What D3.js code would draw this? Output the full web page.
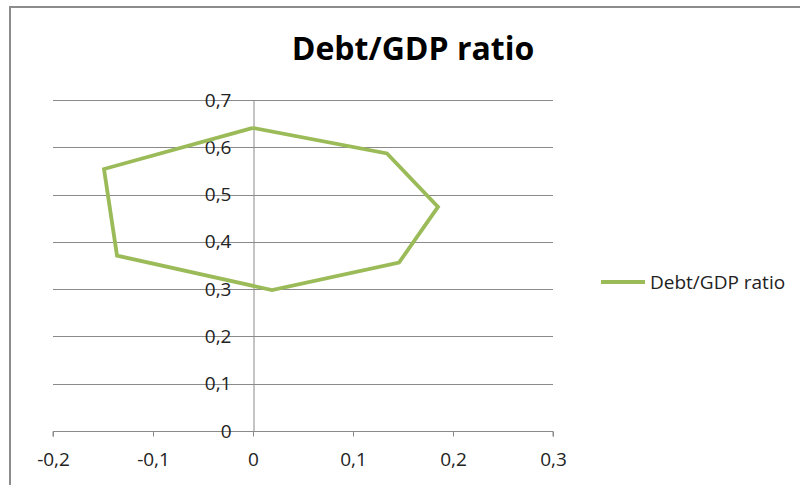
<!DOCTYPE html>
<html>
<head>
<meta charset="utf-8">
<script src="https://cdn.jsdelivr.net/npm/d3@7"></script>
<style>
  html, body { margin: 0; padding: 0; background: #fff; }
  svg { display: block; }
  text { font-family: "Open Sans", "Liberation Sans", sans-serif; fill: #222; }
</style>
</head>
<body>
<svg id="chart" width="800" height="485"></svg>
<script>
// Debt/GDP ratio path, closed polygon (x, y) in drawing order
const seriesName = "Debt/GDP ratio";
const xValues = [0.000, 0.134, 0.185, 0.146, 0.019, -0.136, -0.149, 0.000];
const yValues = [0.641, 0.587, 0.474, 0.356, 0.298, 0.371, 0.554, 0.641];
const xTicks = [-0.2, -0.1, 0, 0.1, 0.2, 0.3];
const yTicks = [0, 0.1, 0.2, 0.3, 0.4, 0.5, 0.6, 0.7];

const fmt = v => (v === 0 ? "0" : String(+v.toFixed(1)).replace(".", ","));

const svg = d3.select("#chart");
const lineColor = "#9BBB59";
const gridColor = "#8a8a8a";

// Outer chart frame
svg.append("rect")
  .attr("x", 10).attr("y", 7)
  .attr("width", 800).attr("height", 500)
  .attr("fill", "none").attr("stroke", "#8c8c8c").attr("stroke-width", 2);

const x = d3.scaleLinear().domain([-0.2, 0.3]).range([53, 553]);
const y = d3.scaleLinear().domain([0, 0.7]).range([431, 100]);

// Title
svg.append("text")
  .attr("x", 413).attr("y", 60)
  .attr("text-anchor", "middle")
  .style("font-size", "32px").style("font-weight", "bold")
  .style("fill", "#000")
  .text(seriesName);

// Horizontal gridlines
svg.append("g").selectAll("line")
  .data(yTicks.filter(d => d !== 0))
  .join("line")
  .attr("x1", x(-0.2)).attr("x2", x(0.3))
  .attr("y1", d => Math.round(y(d)) + 0.5).attr("y2", d => Math.round(y(d)) + 0.5)
  .attr("stroke", gridColor).attr("stroke-width", 1);

// X axis sits at y = 0
const xAxis = d3.axisBottom(x).tickValues(xTicks).tickFormat(fmt).tickSize(5).tickPadding(16);
const gx = svg.append("g")
  .attr("transform", `translate(0,${Math.round(y(0)) + 0.5})`)
  .call(xAxis);
gx.select(".domain").attr("stroke", gridColor).attr("d", `M${x(-0.2)},5V0H${x(0.3)}V5`);
gx.selectAll(".tick line").attr("stroke", gridColor);
gx.selectAll(".tick text").style("font-size", "19px").attr("fill", "#222");

// Y axis crosses at x = 0
const yAxis = d3.axisLeft(y).tickValues(yTicks).tickFormat(fmt).tickSize(0).tickPadding(22);
const gy = svg.append("g")
  .attr("transform", `translate(${Math.round(x(0)) + 0.5},0)`)
  .call(yAxis);
gy.select(".domain").attr("stroke", gridColor);
gy.selectAll(".tick text").style("font-size", "19px").attr("fill", "#222");

// Series line
const pts = xValues.map((v, i) => [v, yValues[i]]);
svg.append("path")
  .datum(pts)
  .attr("d", d3.line().x(d => x(d[0])).y(d => y(d[1])))
  .attr("fill", "none")
  .attr("stroke", lineColor)
  .attr("stroke-width", 3.8)
  .attr("stroke-linejoin", "miter");

// Legend
const lg = svg.append("g").attr("transform", "translate(601,282)");
lg.append("line").attr("x1", 0).attr("x2", 44).attr("y1", 0).attr("y2", 0)
  .attr("stroke", lineColor).attr("stroke-width", 3.8);
lg.append("text").attr("x", 49).attr("y", 6.5)
  .style("font-size", "19px").text(seriesName);
</script>
</body>
</html>
